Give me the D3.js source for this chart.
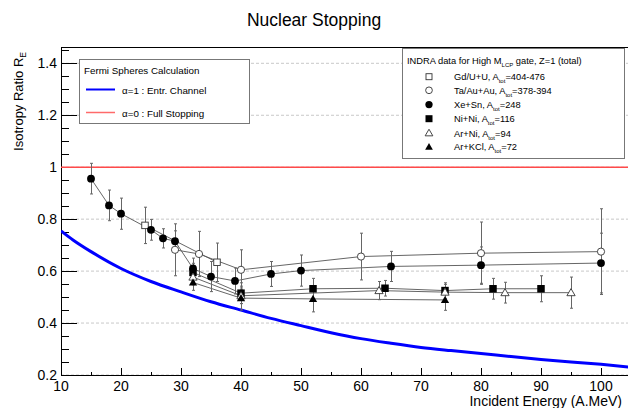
<!DOCTYPE html>
<html><head><meta charset="utf-8">
<script src="https://cdn.jsdelivr.net/npm/d3@7"></script>
<style>
html,body{margin:0;padding:0;background:#fff;}
svg{display:block;font-family:"Liberation Sans",Arial,Helvetica,sans-serif;}
</style></head>
<body><svg id="c" width="628" height="408"></svg>
<script>
// ---- data ----
const xTicks = [10,20,30,40,50,60,70,80,90,100];
const yTicks = [0.2,0.4,0.6,0.8,1.0,1.2,1.4];
const yTickLabels = ["0.2","0.4","0.6","0.8","1","1.2","1.4"];

const calcE = [10,12,15,20,25,30,35,40,45,50,55,60,65,70,75,80,85,90,95,100,105];
const calcR = [0.755,0.72,0.675,0.61,0.56,0.52,0.482,0.45,0.418,0.39,0.363,0.34,0.322,0.306,0.294,0.283,0.271,0.26,0.25,0.241,0.23];
const fullStop = 1.0;

const gdE = [24,36];
const gdR = [0.776,0.634];
const gdErr = [0.07,0.074];

const taE = [29,33,40,60,80,100];
const taR = [0.682,0.666,0.605,0.656,0.669,0.675];
const taErr = [0.10,0.087,0.077,0.09,0.12,0.165];

const xeE = [15,18,20,25,27,29,32,35,39,45,50,65,80,100];
const xeR = [0.956,0.853,0.821,0.759,0.726,0.715,0.61,0.579,0.562,0.589,0.602,0.618,0.623,0.631];
const xeErr = [0.059,0.059,0.06,0.04,0.037,0.04,0.04,0.058,0.05,0.048,0.06,0.058,0.07,0.115];

const niE = [32,40,52,64,74,82,90];
const niR = [0.595,0.515,0.532,0.534,0.525,0.532,0.532];
const niErr = [0.035,0.04,0.04,0.03,0.03,0.04,0.05];

const arniE = [32,40,63,74,84,95];
const arniR = [0.577,0.505,0.525,0.519,0.517,0.517];
const arniErr = [0.03,0.03,0.035,0.03,0.04,0.06];

const arkE = [32,40,52,74];
const arkR = [0.556,0.496,0.493,0.489];
const arkErr = [0.03,0.046,0.05,0.04];

const seriesNames = ["Gd/U+U, A","Ta/Au+Au, A","Xe+Sn, A","Ni+Ni, A","Ar+Ni, A","Ar+KCl, A"];
const seriesSuffix = ["=404-476","=378-394","=248","=116","=94","=72"];
const seriesMarkers = ["openSquare","openCircle","circle","square","openTriangle","triangle"];

// ---- build ----
const svg = d3.select("#c");
const L=61, R=628, T=47, B=376;
const x = d3.scaleLinear().domain([10,104.5]).range([L,R]);
const y = d3.scaleLinear().domain([0.2,1.4]).range([375,63.3]);

// title
svg.append("text").attr("x",314).attr("y",26).attr("text-anchor","middle")
  .attr("font-size",17.5).text("Nuclear Stopping");

// grid
const g = svg.append("g");
g.selectAll(".grid").data(yTicks).enter().append("line")
  .attr("x1",L).attr("x2",R).attr("y1",d=>y(d)).attr("y2",d=>y(d))
  .attr("stroke","#c8c8c8").attr("stroke-width",1).attr("stroke-dasharray","3,2");

// frame
svg.append("rect").attr("x",L+0.5).attr("y",T+0.5).attr("width",R-L+5).attr("height",B-T-1)
  .attr("fill","none").attr("stroke","#000").attr("stroke-width",1);

// y axis ticks (inside)
const yMinor = d3.range(0.2,1.46,0.05);
svg.append("g").selectAll("line").data(yMinor).enter().append("line")
  .attr("x1",L).attr("x2",d=> (Math.abs(Math.round(d*5)-d*5)<1e-6) ? L+16 : L+8)
  .attr("y1",d=>Math.round(y(d))+0.5).attr("y2",d=>Math.round(y(d))+0.5)
  .attr("stroke","#000").attr("stroke-width",1);
svg.append("g").selectAll("text").data(yTicks).enter().append("text")
  .attr("x",57).attr("y",d=>y(d)+5).attr("text-anchor","end").attr("font-size",14)
  .text((d,i)=>yTickLabels[i]);

// x axis ticks
const xMinor = d3.range(10,105,5);
svg.append("g").selectAll("line").data(xMinor).enter().append("line")
  .attr("x1",d=>Math.round(x(d))+0.5).attr("x2",d=>Math.round(x(d))+0.5)
  .attr("y1",B).attr("y2",d=> d%10===0 ? B-8 : B-4)
  .attr("stroke","#000").attr("stroke-width",1);
svg.append("g").selectAll("text").data(xTicks).enter().append("text")
  .attr("x",d=>x(d)).attr("y",391).attr("text-anchor","middle").attr("font-size",14)
  .text(d=>d);

// axis titles
svg.append("text").attr("x",622).attr("y",406).attr("text-anchor","end")
  .attr("font-size",14).text("Incident Energy (A.MeV)");
const yt = svg.append("text").attr("transform","translate(23,52) rotate(-90)")
  .attr("text-anchor","end").attr("font-size",13);
yt.append("tspan").text("Isotropy Ratio R");
yt.append("tspan").attr("font-size",8.5).attr("dy",3).text("E");

// clip
svg.append("clipPath").attr("id","pc").append("rect").attr("x",L).attr("y",T).attr("width",R-L).attr("height",B-T);
const plot = svg.append("g").attr("clip-path","url(#pc)");

// full stopping line
plot.append("line").attr("x1",L).attr("x2",R).attr("y1",y(fullStop)).attr("y2",y(fullStop))
  .attr("stroke","#ff4a4a").attr("stroke-width",1.6);
// calculation curve
plot.append("path").datum(calcE.map((e,i)=>[e,calcR[i]]))
  .attr("d",d3.line().x(d=>x(d[0])).y(d=>y(d[1])).curve(d3.curveMonotoneX))
  .attr("fill","none").attr("stroke","#0000ff").attr("stroke-width",3);

const series = [
  [gdE,gdR,gdErr],[taE,taR,taErr],[xeE,xeR,xeErr],[niE,niR,niErr],[arniE,arniR,arniErr],[arkE,arkR,arkErr]
];

function marker(sel,type,cx,cy,s){
  const gg = sel.append("g").attr("transform",`translate(${cx},${cy})`);
  if(type==="circle") gg.append("circle").attr("r",s*0.52).attr("fill","#000");
  else if(type==="openCircle") gg.append("circle").attr("r",s*0.48).attr("fill","#fff").attr("stroke","#333").attr("stroke-width",0.9);
  else if(type==="square") gg.append("rect").attr("x",-s/2).attr("y",-s/2).attr("width",s).attr("height",s).attr("fill","#000");
  else if(type==="openSquare") gg.append("rect").attr("x",-s/2+0.5).attr("y",-s/2+0.5).attr("width",s-1).attr("height",s-1).attr("fill","#fff").attr("stroke","#333").attr("stroke-width",0.9);
  else {
    const h=s*0.9, w=s*0.55;
    const p = `M0,${-h*0.6}L${w},${h*0.45}L${-w},${h*0.45}Z`;
    if(type==="triangle") gg.append("path").attr("d",p).attr("fill","#000");
    else gg.append("path").attr("d",p).attr("fill","#fff").attr("stroke","#333").attr("stroke-width",0.9);
  }
}

// connecting lines
series.forEach(([E,Rv])=>{
  plot.append("path").datum(E.map((e,i)=>[e,Rv[i]]))
    .attr("d",d3.line().x(d=>x(d[0])).y(d=>y(d[1])))
    .attr("fill","none").attr("stroke","#555").attr("stroke-width",0.9);
});
// error bars
series.forEach(([E,Rv,Er])=>{
  E.forEach((e,i)=>{
    const xx = Math.round(x(e))+0.5;
    plot.append("line").attr("x1",xx).attr("x2",xx).attr("y1",y(Rv[i]-Er[i])).attr("y2",y(Rv[i]+Er[i]))
      .attr("stroke","#666").attr("stroke-width",1);
    [Rv[i]-Er[i],Rv[i]+Er[i]].forEach(v=>{
      plot.append("line").attr("x1",xx-1.5).attr("x2",xx+1.5).attr("y1",y(v)).attr("y2",y(v))
        .attr("stroke","#666").attr("stroke-width",1);
    });
  });
});
// markers
series.forEach(([E,Rv],k)=>{
  E.forEach((e,i)=> marker(plot,seriesMarkers[k],x(e),y(Rv[i]),7.5));
});

// left legend
const lg = svg.append("g");
lg.append("rect").attr("x",79.5).attr("y",59.5).attr("width",170).attr("height",64)
  .attr("fill","#fff").attr("stroke","#777").attr("stroke-width",1);
lg.append("text").attr("x",84).attr("y",74).attr("font-size",9.8).text("Fermi Spheres Calculation");
lg.append("line").attr("x1",86).attr("x2",115).attr("y1",89.5).attr("y2",89.5).attr("stroke","#0000ff").attr("stroke-width",2);
lg.append("text").attr("x",122).attr("y",93.5).attr("font-size",9.8).text("\u03b1=1 : Entr. Channel");
lg.append("line").attr("x1",86).attr("x2",115).attr("y1",112.5).attr("y2",112.5).attr("stroke","#ff6a6a").attr("stroke-width",1.5);
lg.append("text").attr("x",122).attr("y",116.5).attr("font-size",9.8).text("\u03b1=0 : Full Stopping");

// right legend
const rg = svg.append("g");
rg.append("rect").attr("x",402.5).attr("y",48.5).attr("width",222).attr("height",110)
  .attr("fill","#fff").attr("stroke","#777").attr("stroke-width",1);
const hdr = rg.append("text").attr("x",407).attr("y",64).attr("font-size",9.3);
hdr.append("tspan").text("INDRA data for High M");
hdr.append("tspan").attr("font-size",6).attr("dy",3).text("LCP");
hdr.append("tspan").attr("dy",-3).text(" gate, Z=1 (total)");
const rowY = [76.7,90.3,104.6,118.7,133,146.8];
seriesNames.forEach((nm,k)=>{
  marker(rg,seriesMarkers[k],429,rowY[k],7);
  const t = rg.append("text").attr("x",454).attr("y",rowY[k]+3.5).attr("font-size",9.3);
  t.append("tspan").text(nm);
  t.append("tspan").attr("font-size",6).attr("dy",3).text("tot");
  t.append("tspan").attr("dy",-3).text(seriesSuffix[k]);
});
</script></body></html>
